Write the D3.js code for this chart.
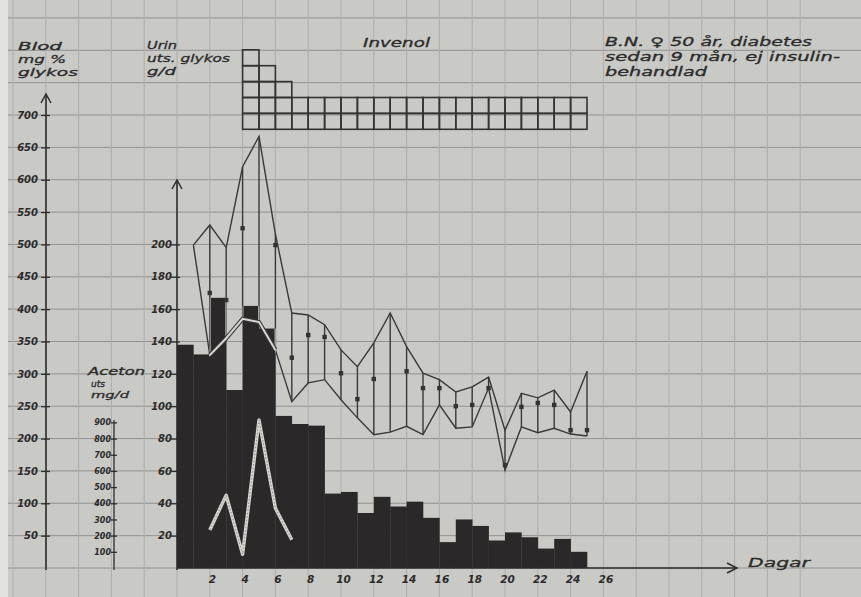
<!DOCTYPE html>
<html><head><meta charset="utf-8">
<script src="https://cdn.jsdelivr.net/npm/d3@7"></script>
<style>
html,body{margin:0;padding:0;background:#c9c9c6;}
svg{display:block;}
text{font-family:"DejaVu Sans",sans-serif;font-style:italic;fill:#2b2b2b;}
</style></head><body>
<svg id="chart" width="861" height="597"></svg>
<script>
// Day numbers (1..25) for the daily series
const days = d3.range(1, 26);
// Urine glucose excretion, g per day (black bars)
const urineGlucose = [138,132,167,110,162,148,94,89,88,46,47,34,44,38,41,31,16,30,26,17,22,19,12,18,10];
// Blood glucose, mg % — daily maximum, minimum and mean
const bloodHigh = [499,530,495,620,667,516,394,391,376,337,311,348,394,342,301,291,272,280,295,213,270,263,275,241,304];
const bloodLow  = [499,329,355,385,380,337,257,286,291,260,232,206,210,219,206,252,216,218,278,151,218,209,216,207,204];
const bloodMean = [null,425,414,525,null,499,325,360,357,301,261,292,null,304,278,278,250,252,278,159,249,255,252,213,213];
// Acetone excretion, mg per day
const acetonDays = [2,3,4,5,6,7];
const aceton = [235,450,85,915,370,175];
// Invenol dose (tablets) per day
const invenolDays = d3.range(5, 26);
const invenolDose = [5,4,3,2,2,2,2,2,2,2,2,2,2,2,2,2,2,2,2,2,2];
// Axis tick values
const bloodTicks = d3.range(50, 701, 50);
const urineTicks = d3.range(20, 201, 20);
const acetonTicks = d3.range(100, 901, 100);
const dayTicks = d3.range(2, 27, 2);

const W = 861, H = 597;
const svg = d3.select("#chart");

const x = d3.scaleLinear().domain([0, 26]).range([177, 603.4]);
const yBlood = d3.scaleLinear().domain([0, 700]).range([568, 115]);
const yUrine = d3.scaleLinear().domain([0, 280]).range([568, 115]);
const yAceton = d3.scaleLinear().domain([0, 2800]).range([568, 115]);
const yInv = d3.scaleLinear().domain([0, 5]).range([129.3, 49.8]);

const ink = "#2e2d2d";

// paper
svg.append("rect").attr("width", W).attr("height", H).attr("fill", "#c9c9c6");
svg.append("rect").attr("width", 8).attr("height", H).attr("fill", "#e2e2de");

// ruled paper grid
const grid = svg.append("g");
const hLines = d3.range(0, 900, 50);
grid.selectAll("line.h").data(hLines).join("line")
  .attr("x1", 8).attr("x2", W)
  .attr("y1", d => yBlood(d)).attr("y2", d => yBlood(d))
  .attr("stroke", "#929290").attr("stroke-width", 1);
const vLines = d3.range(-10, 40, 2).map(d => x(d)).filter(v => v > 8 && v < W);
grid.selectAll("line.v").data(vLines).join("line")
  .attr("x1", d => d).attr("x2", d => d)
  .attr("y1", 0).attr("y2", H)
  .attr("stroke", "#afaeac").attr("stroke-width", 1);

// urine glucose bars, one per day cell
const bars = days.map((d, i) => ({ d, v: urineGlucose[i] }));
svg.append("g").selectAll("rect").data(bars).join("rect")
  .attr("x", d => x(d.d - 1)).attr("width", d => x(d.d) - x(d.d - 1) + 0.3)
  .attr("y", d => yUrine(d.v)).attr("height", d => yUrine(0) - yUrine(d.v))
  .attr("fill", "#2a2828");

const defs = svg.append("defs");
defs.append("clipPath").attr("id", "barClip").selectAll("rect").data(bars).join("rect")
  .attr("x", d => x(d.d - 1)).attr("width", d => x(d.d) - x(d.d - 1) + 0.3)
  .attr("y", d => yUrine(d.v)).attr("height", d => yUrine(0) - yUrine(d.v));

// blood glucose band
const env = days.map((d, i) => ({ d, hi: bloodHigh[i], lo: bloodLow[i], m: bloodMean[i] }));
const upper = d3.line().x(d => x(d.d)).y(d => yBlood(d.hi));
const lower = d3.line().x(d => x(d.d)).y(d => yBlood(d.lo));

function drawBand(g, color, w) {
  g.append("path").attr("d", upper(env)).attr("fill", "none").attr("stroke", color).attr("stroke-width", w);
  g.append("path").attr("d", lower(env)).attr("fill", "none").attr("stroke", color).attr("stroke-width", w);
  g.selectAll("line").data(env.filter(e => e.hi !== e.lo)).join("line")
    .attr("x1", d => x(d.d)).attr("x2", d => x(d.d))
    .attr("y1", d => yBlood(d.hi)).attr("y2", d => yBlood(d.lo))
    .attr("stroke", color).attr("stroke-width", w);
}
drawBand(svg.append("g"), "#3a3939", 1.4);
drawBand(svg.append("g").attr("clip-path", "url(#barClip)"), "#c4c4c1", 1.6);

// hollow stretch of the lower curve across the bars
const hollow = env.filter(e => e.d >= 2 && e.d <= 6);
svg.append("path").attr("d", lower(hollow)).attr("fill", "none")
  .attr("stroke", "#3a3939").attr("stroke-width", 4.2);
svg.append("path").attr("d", lower(hollow)).attr("fill", "none")
  .attr("stroke", "#d6d6d2").attr("stroke-width", 2);

// daily means
svg.append("g").selectAll("rect").data(env.filter(e => e.m != null)).join("rect")
  .attr("x", d => x(d.d) - 2.2).attr("y", d => yBlood(d.m) - 2.2)
  .attr("width", 4.4).attr("height", 4.4).attr("fill", "#333");

// acetone curve drawn in white over the bars
const ac = acetonDays.map((d, i) => ({ d, v: aceton[i] }));
const acLine = d3.line().x(d => x(d.d)).y(d => yAceton(d.v));
svg.append("path").attr("d", acLine(ac)).attr("fill", "none")
  .attr("stroke", "#d4d4d0").attr("stroke-width", 3.4).attr("stroke-linejoin", "round");
svg.append("path").attr("d", acLine(ac)).attr("fill", "none")
  .attr("stroke", "#8d8d8a").attr("stroke-width", 1).attr("stroke-dasharray", "1.5 2");

// axes
function arrowUp(g, ax, top) {
  g.append("path").attr("d", `M${ax - 5},${top + 9}L${ax},${top}L${ax + 5},${top + 9}`)
    .attr("fill", "none").attr("stroke", ink).attr("stroke-width", 1.5);
}
function styleAxis(g, size, x1, x2, tx) {
  g.select(".domain").remove();
  g.selectAll(".tick line").attr("x1", x1).attr("x2", x2).attr("stroke", ink).attr("stroke-width", 1.3);
  g.selectAll(".tick text").attr("x", tx).attr("font-size", size).attr("font-weight", "bold")
    .attr("font-family", "DejaVu Sans, sans-serif").attr("font-style", "italic").attr("fill", "#2b2b2b");
}

// blood axis
const axB = svg.append("g").attr("transform", "translate(46,0)")
  .call(d3.axisLeft(yBlood).tickValues(bloodTicks).tickFormat(d3.format("d")));
styleAxis(axB, 10, -5, 4, -8);
svg.append("line").attr("x1", 46).attr("x2", 46).attr("y1", 94).attr("y2", 570)
  .attr("stroke", ink).attr("stroke-width", 1.6);
arrowUp(svg, 46, 94);

// urine axis
const axU = svg.append("g").attr("transform", "translate(177,0)")
  .call(d3.axisLeft(yUrine).tickValues(urineTicks).tickFormat(d3.format("d")));
styleAxis(axU, 10, -6, 3, -5);
svg.append("line").attr("x1", 177).attr("x2", 177).attr("y1", 180).attr("y2", 570)
  .attr("stroke", ink).attr("stroke-width", 1.6);
arrowUp(svg, 177, 180);

// acetone axis
const axA = svg.append("g").attr("transform", "translate(114,0)")
  .call(d3.axisLeft(yAceton).tickValues(acetonTicks).tickFormat(d3.format("d")));
styleAxis(axA, 8, -3, 3, -3);
svg.append("line").attr("x1", 114).attr("x2", 114).attr("y1", 420).attr("y2", 570)
  .attr("stroke", ink).attr("stroke-width", 1.3);

// day axis
const axD = svg.append("g").attr("transform", "translate(0,568)")
  .call(d3.axisBottom(x).tickValues(dayTicks).tickSize(0));
axD.select(".domain").remove();
axD.selectAll(".tick text").attr("y", 15).attr("dy", 0).attr("dx", 2)
  .attr("font-size", 10.5).attr("font-weight", "bold")
  .attr("font-family", "DejaVu Sans, sans-serif").attr("font-style", "italic").attr("fill", "#2b2b2b");
svg.append("line").attr("x1", 177).attr("x2", 736).attr("y1", 568).attr("y2", 568)
  .attr("stroke", ink).attr("stroke-width", 1.6);
svg.append("path").attr("d", "M727,563L737,568L727,573").attr("fill", "none")
  .attr("stroke", ink).attr("stroke-width", 1.5);

// Invenol dose blocks
const inv = svg.append("g");
invenolDays.forEach((d, i) => {
  inv.selectAll(null).data(d3.range(invenolDose[i])).join("rect")
    .attr("x", x(d - 1)).attr("width", x(d) - x(d - 1))
    .attr("y", k => yInv(k + 1)).attr("height", k => yInv(k) - yInv(k + 1))
    .attr("fill", "none").attr("stroke", "#333").attr("stroke-width", 1.6);
});

// lettering
const labels = [
  { t: "Blod", x: 18, y: 50, w: 44, s: 11 },
  { t: "mg %", x: 18, y: 63, w: 48, s: 11 },
  { t: "glykos", x: 18, y: 76, w: 60, s: 11 },
  { t: "Urin", x: 147, y: 49, w: 30, s: 11 },
  { t: "uts. glykos", x: 147, y: 62, w: 83, s: 11 },
  { t: "g/d", x: 147, y: 75, w: 29, s: 11 },
  { t: "Invenol", x: 363, y: 47, w: 67, s: 12 },
  { t: "B.N. ♀ 50 år, diabetes", x: 605, y: 46, w: 207, s: 12 },
  { t: "sedan 9 mån, ej insulin-", x: 605, y: 61, w: 235, s: 12 },
  { t: "behandlad", x: 605, y: 76, w: 102, s: 12 },
  { t: "Aceton", x: 88, y: 375, w: 57, s: 10 },
  { t: "uts", x: 91, y: 387, w: 14, s: 9 },
  { t: "mg/d", x: 91, y: 398, w: 38, s: 9 },
  { t: "Dagar", x: 748, y: 567, w: 62, s: 13 }
];
svg.append("g").selectAll("text").data(labels).join("text")
  .attr("x", d => d.x).attr("y", d => d.y)
  .attr("textLength", d => d.w).attr("lengthAdjust", "spacingAndGlyphs")
  .attr("font-size", d => d.s)
  .attr("stroke", "#2b2b2b").attr("stroke-width", 0.3)
  .text(d => d.t);
</script>
</body></html>
